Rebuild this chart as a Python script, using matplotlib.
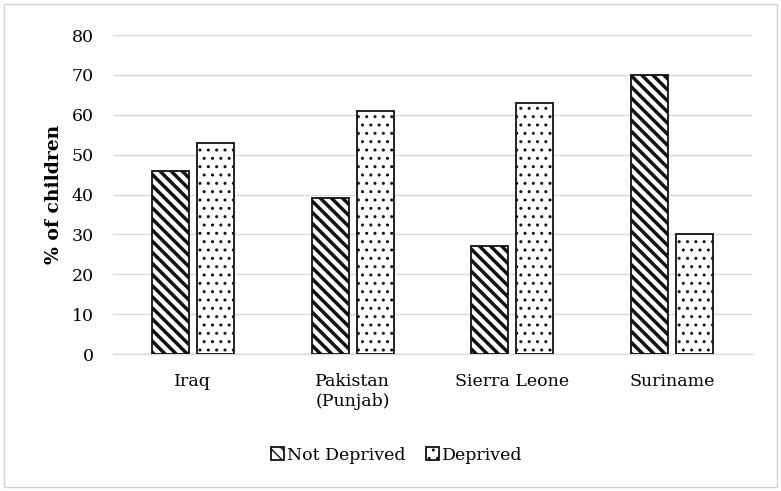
import numpy as np
import matplotlib.pyplot as plt
from matplotlib.patches import Rectangle

countries = ["Iraq", "Pakistan\n(Punjab)", "Sierra Leone", "Suriname"]
not_deprived = [46, 39, 27, 70]
deprived = [53, 61, 63, 30]
y_ticks = [0, 10, 20, 30, 40, 50, 60, 70, 80]

plt.rcParams["font.family"] = ["DejaVu Serif"]

fig = plt.figure(figsize=(7.81, 4.91), dpi=100)
ax = fig.add_axes([0.1447, 0.279, 0.818, 0.6497])

# light grey frame round the whole chart
fig.patches.append(Rectangle((0.005, 0.008), 0.990, 0.984, transform=fig.transFigure,
                             fill=False, edgecolor="#d0d0d0", linewidth=1.0))

x = np.arange(len(countries))
w = 0.232
off = 0.141

plt.rcParams["hatch.linewidth"] = 2.5
b1 = ax.bar(x - off, not_deprived, w, color="white", edgecolor="#111111",
            linewidth=1.3, hatch="\\\\\\", label="Not Deprived", zorder=3)
plt.rcParams["hatch.linewidth"] = 1.0
b2 = ax.bar(x + off, deprived, w, color="white", edgecolor="#111111",
            linewidth=1.3, hatch="..", label="Deprived", zorder=3)
for bars, lw in ((b1, 2.5), (b2, 1.0)):
    for p in bars:
        if hasattr(p, "set_hatch_linewidth"):
            p.set_hatch_linewidth(lw)

ax.set_xlim(-0.5, len(countries) - 0.5)
ax.set_ylim(0, 80)
ax.set_yticks(y_ticks)
ax.set_xticks(x)
ax.set_xticklabels(countries, fontsize=12.5)
ax.tick_params(axis="y", labelsize=12.5, length=0, pad=14)
ax.tick_params(axis="x", length=0, pad=14)

ax.grid(axis="y", color="#d9d9d9", linewidth=1.0, zorder=0)
ax.set_axisbelow(True)
for side in ["top", "right", "left"]:
    ax.spines[side].set_visible(False)
ax.spines["bottom"].set_color("#d9d9d9")
ax.spines["bottom"].set_linewidth(1.0)

ax.set_ylabel("% of children", fontsize=13.5, fontweight="bold", labelpad=6)

fig.legend(handles=[b1, b2], loc="center", bbox_to_anchor=(0.508, 0.073),
           ncol=2, frameon=False, fontsize=12.5, handlelength=0.75, handleheight=0.75,
           handletextpad=0.15, columnspacing=1.2)

plt.savefig("out.png", dpi=100)
